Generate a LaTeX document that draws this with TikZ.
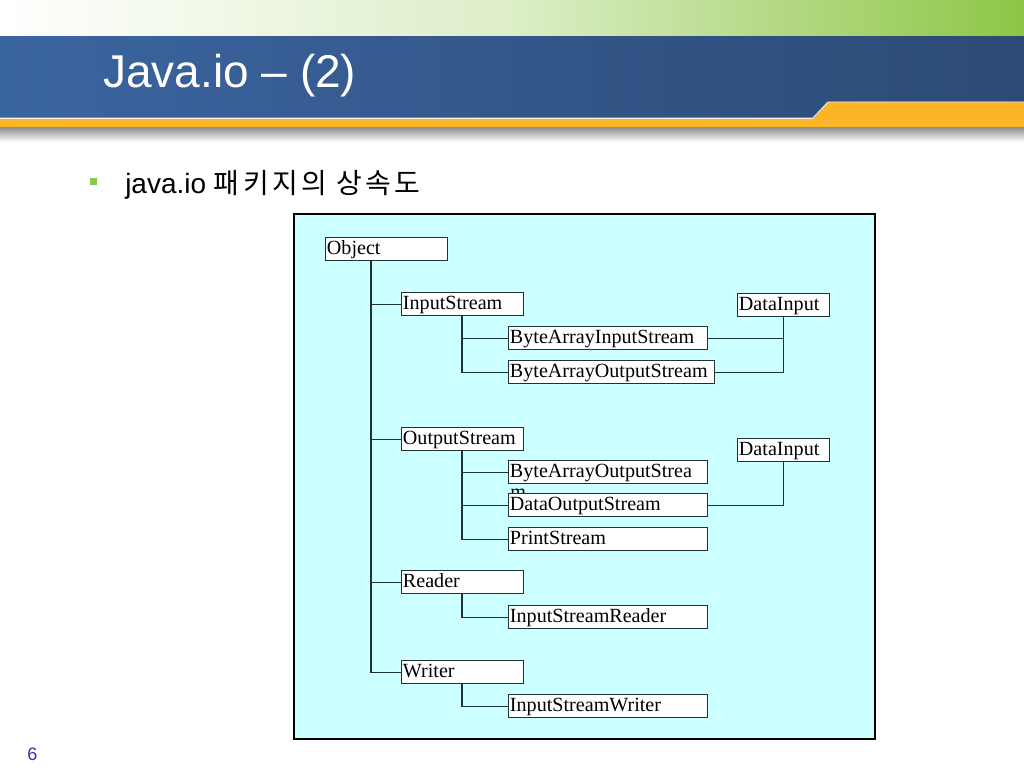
\documentclass[tikz,border=0pt]{standalone}
\usepackage{fontspec}
\setmainfont{Liberation Sans}
\newfontfamily\krfont[LetterSpace=12]{Noto Sans CJK KR}
\newfontfamily\boxfont{Liberation Serif}
\usetikzlibrary{calc,positioning}
\definecolor{hdrgreen}{RGB}{141,198,70}
\definecolor{hdrblueL}{RGB}{59,101,160}
\definecolor{hdrblueR}{RGB}{44,74,117}
\definecolor{hdrorange}{RGB}{252,181,38}
\definecolor{bulgreen}{RGB}{140,200,80}
\definecolor{pgblue}{RGB}{50,50,170}
\definecolor{cyanbg}{RGB}{204,255,255}
\definecolor{lnclr}{RGB}{30,50,50}
\tikzset{
  cls/.style={draw=lnclr, fill=white, line width=0.8pt, anchor=north west, minimum height=0.575cm,
    inner xsep=1pt, inner ysep=0pt, text height=12pt, text depth=4.3pt, align=left,
    font=\boxfont\fontsize{14.3}{16}\selectfont},
  bw/.style={text width=#1-2pt},
  lnk/.style={draw=lnclr, line width=0.8pt},
}
\begin{document}
\begin{tikzpicture}[x=0.025cm, y=-0.025cm]
  \useasboundingbox (0,0) rectangle (1024,768);

  % --- Header bands ---
  \shade[left color=white, right color=hdrgreen, middle color=hdrgreen!30] (0,0) rectangle (1024,37);
  \shade[left color=hdrblueL, right color=hdrblueR] (0,37) rectangle (1024,118);
  \shade[top color=black!45, bottom color=white] (0,127) rectangle (1024,142);
  \fill[hdrorange] (0,119) -- (813,119) -- (828,102) -- (1024,102) -- (1024,127) -- (0,127) -- cycle;
  \draw[white!85!gray, line width=0.7pt] (0,118) -- (813,118) -- (828,102) -- (1024,102);
  \node[anchor=base west, text=white, font=\fontsize{32.7}{36}\selectfont, inner sep=0pt] (title) at (103,88) {Java.io -- (2)};

  % --- Bullet line ---
  \fill[bulgreen] (90,178) rectangle (97,185);
  \node[anchor=base west, font=\fontsize{19.9}{22}\selectfont, inner sep=0pt] (sub) at (125,193) {java.io {\krfont 패키지의 상속도}};

  % --- Hierarchy ---
  \draw[black, line width=0.8pt, fill=cyanbg] (294,214) rectangle (875,739);

  \node[cls, bw=3.05cm] (obj) at (325,237) {Object};
  \node[cls, bw=3.05cm] (ins) at (401,292) {InputStream};
  \node[cls, bw=4.975cm] (bais) at (508,326) {ByteArrayInputStream};
  \node[cls, bw=5.15cm] (baos) at (508,360) {ByteArrayOutputStream};
  \node[cls, bw=2.3cm] (di1) at (737,293) {DataInput};

  \node[cls, bw=3.05cm] (outs) at (401,427) {OutputStream};
  \node[cls, bw=2.3cm] (di2) at (737,438) {DataInput};
  \node[cls, bw=4.975cm] (baost) at (508,460) {ByteArrayOutputStrea};
  \node[anchor=base west, inner sep=0pt, font=\boxfont\fontsize{14.3}{16}\selectfont] (baosm) at (510,498) {m};
  \node[cls, bw=4.975cm] (dos) at (508,493) {DataOutputStream};
  \node[cls, bw=4.975cm] (ps) at (508,527) {PrintStream};

  \node[cls, bw=3.05cm] (rdr) at (401,570) {Reader};
  \node[cls, bw=4.975cm] (isr) at (508,605) {InputStreamReader};
  \node[cls, bw=3.05cm] (wrt) at (401,660) {Writer};
  \node[cls, bw=4.975cm] (isw) at (508,694) {InputStreamWriter};

  % trunks
  \foreach \c in {ins,outs,rdr,wrt}
    \draw[lnk] ($(obj.south west)+(46,0)$) |- (\c.west);
  \foreach \c in {bais,baos}
    \draw[lnk] ($(ins.south west)+(61,0)$) |- (\c.west);
  \foreach \c in {baost,dos,ps}
    \draw[lnk] ($(outs.south west)+(61,0)$) |- (\c.west);
  \draw[lnk] ($(rdr.south west)+(61,0)$) |- (isr.west);
  \draw[lnk] ($(wrt.south west)+(61,0)$) |- (isw.west);

  % interface links
  \draw[lnk] (bais.east) -| (di1.south);
  \draw[lnk] (baos.east) -| (di1.south);
  \draw[lnk] (dos.east) -| (di2.south);

  % page number
  \node[anchor=base west, text=pgblue, font=\fontsize{12.8}{14}\selectfont, inner sep=0pt] (pg) at (27,760) {6};
\end{tikzpicture}
\end{document}
